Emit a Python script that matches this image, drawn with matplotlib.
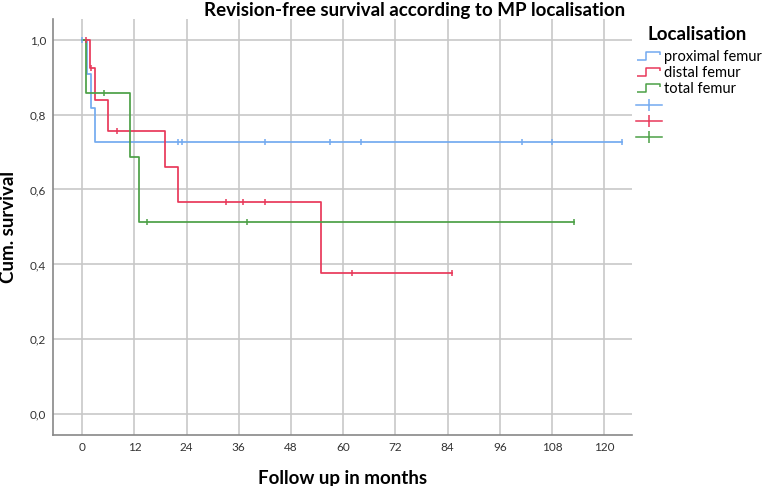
import numpy as np
import matplotlib
matplotlib.use("Agg")
import matplotlib.pyplot as plt
from matplotlib.lines import Line2D
from matplotlib.path import Path

plt.rcParams['font.family'] = ['Lato', 'DejaVu Sans']

# Kaplan-Meier steps (time in months, cum. survival)
prox_t = [0, 1.2, 2.0, 2.9]
prox_s = [1.0, 0.909, 0.818, 0.727]
prox_cens = [0, 22, 23, 42, 57, 64, 101, 108, 124]

dist_t = [0, 1.8, 3.0, 6.0, 19.0, 22.1, 55.0]
dist_s = [1.0, 0.923, 0.839, 0.755, 0.661, 0.566, 0.377]
dist_cens = [0.9, 2.1, 8.0, 33.0, 37.0, 42.0, 62.0, 85.0]

tot_t = [0, 0.9, 11.0, 13.0]
tot_s = [1.0, 0.857, 0.686, 0.514]
tot_cens = [5.0, 15.0, 38.0, 113.0]

groups = ["proximal femur", "distal femur", "total femur"]
colors = ["#73aaf0", "#e8385a", "#4ca046"]

xticks = [0, 12, 24, 36, 48, 60, 72, 84, 96, 108, 120]
yticks = [0.0, 0.2, 0.4, 0.6, 0.8, 1.0]
ytick_labels = ["0,0", "0,2", "0,4", "0,6", "0,8", "1,0"]

fig = plt.figure(figsize=(7.62, 4.86), dpi=100)
ax = fig.add_axes([0.0696, 0.105, 0.7604, 0.856])

data = [(prox_t, prox_s, prox_cens), (dist_t, dist_s, dist_cens), (tot_t, tot_s, tot_cens)]
for (t, s, c), col in zip(data, colors):
    end = max(c)
    tt = list(t) + [end]
    ss = list(s) + [s[-1]]
    ax.step(tt, ss, where='post', color=col, lw=1.25, zorder=3)
    idx = np.searchsorted(t, c, side='right') - 1
    cy = np.array(s)[idx]
    ax.plot(c, cy, linestyle='none', marker='|', color=col, ms=5, mew=1.1, zorder=4)

ax.set_xlim(-6.7, 126.5)
ax.set_ylim(-0.055, 1.055)
ax.set_xticks(xticks)
ax.set_yticks(yticks)
ax.set_yticklabels(ytick_labels)
ax.tick_params(length=0, labelsize=8.5, colors='#333333', pad=5)
ax.grid(True, color='#c8c8c8', lw=1.2)
ax.set_axisbelow(True)
for sp in ['top', 'right']:
    ax.spines[sp].set_visible(False)
for sp in ['left', 'bottom']:
    ax.spines[sp].set_color('#888888')
    ax.spines[sp].set_linewidth(1.2)

ax.set_xlabel("Follow up in months", fontsize=13.5, fontweight='bold', labelpad=12)
ax.set_ylabel("Cum. survival", fontsize=13.5, fontweight='bold', labelpad=9)
fig.text(0.544, 0.979, "Revision-free survival according to MP localisation",
         ha='center', va='center', fontsize=13.5, fontweight='bold')

# legend: step icons then censor crosses
step_icon = Path([(-1.0, -0.35), (-0.25, -0.35), (-0.25, 0.35), (0.9, 0.35), (0.9, 0.1)],
                 [Path.MOVETO, Path.LINETO, Path.LINETO, Path.LINETO, Path.LINETO])
handles = []
labels = []
for g, col in zip(groups, colors):
    handles.append(Line2D([], [], linestyle='none', marker=step_icon, ms=18,
                          mfc='none', mec=col, mew=1.1))
    labels.append(g)
for col in colors:
    handles.append(Line2D([], [], linestyle='-', color=col, lw=1.1,
                          marker='|', ms=8, mew=1.1))
    labels.append("")

fig.text(0.9154, 0.930, "Localisation", ha='center', va='center',
         fontsize=13.5, fontweight='bold')
leg = ax.legend(handles, labels, loc='upper left', bbox_to_anchor=(0.834, 0.897),
                bbox_transform=fig.transFigure, frameon=False, fontsize=10.5,
                handlelength=1.8, handletextpad=0.15,
                labelspacing=0.15, borderpad=0, borderaxespad=0, numpoints=1)

fig.savefig("out.png", dpi=100)
